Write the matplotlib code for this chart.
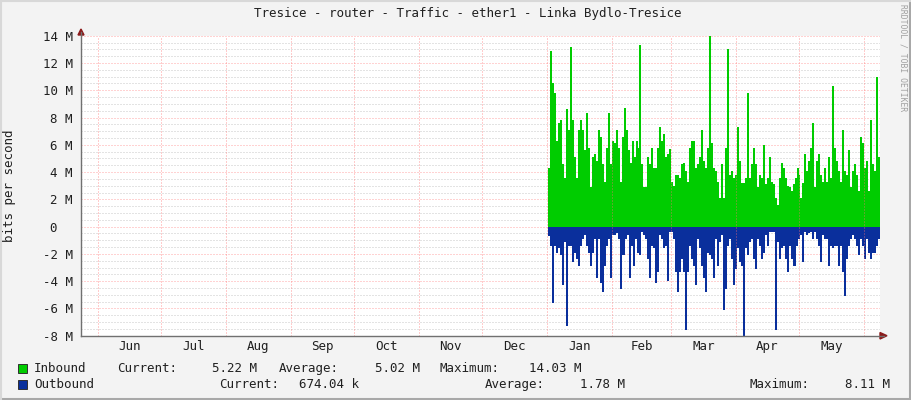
import numpy as np
import matplotlib
matplotlib.use("Agg")
import matplotlib.pyplot as plt
from matplotlib.patches import Rectangle, Polygon
from matplotlib.lines import Line2D

W, H = 911, 400

# traffic in Mbit/s (roughly one value per day, Jan 1 .. Jun 8)
inbound = [
    4.3, 12.9, 10.5, 9.8, 6.3, 7.6, 7.8, 4.6, 3.6, 8.6, 7.1, 13.2, 7.8, 5.1,
    3.6, 7.1, 7.8, 7.1, 5.6, 8.3, 5.8, 2.9, 5.1, 5.3, 4.8, 7.1, 6.6, 4.6,
    3.3, 5.8, 8.3, 4.6, 6.3, 6.1, 7.1, 5.8, 3.3, 6.6, 8.7, 7.1, 5.6, 4.7,
    6.3, 5.1, 6.3, 5.8, 13.3, 4.6, 2.9, 2.9, 5.1, 4.6, 5.8, 4.3, 4.3, 5.8,
    7.3, 6.3, 6.8, 5.1, 5.3, 5.7, 3.3, 3.0, 3.8, 3.8, 3.6, 4.6, 4.7, 4.1,
    3.3, 5.8, 6.3, 6.3, 4.3, 4.6, 5.1, 7.1, 4.8, 4.3, 5.8, 14.0, 6.1, 4.3, 4.1,
    3.3, 2.1, 4.6, 2.1, 5.8, 13.0, 3.8, 4.1, 3.6, 3.8, 7.3, 4.8, 3.2, 3.2,
    3.6, 9.8, 3.6, 4.6, 5.8, 4.6, 2.9, 3.8, 3.6, 6.0, 3.1, 3.6, 5.1, 3.3,
    3.1, 2.1, 1.6, 3.6, 4.7, 4.3, 3.6, 3.0, 2.9, 2.6, 3.1, 3.6, 4.3, 3.8,
    2.1, 3.2, 5.3, 4.1, 4.8, 5.8, 7.6, 2.9, 4.8, 5.3, 3.8, 3.3, 4.3, 3.3,
    5.1, 3.6, 10.3, 5.8, 4.8, 4.1, 3.3, 7.1, 4.1, 3.8, 5.6, 2.9, 4.1, 4.6,
    3.8, 2.6, 6.6, 6.1, 4.3, 4.8, 2.6, 7.8, 4.6, 4.1, 11.0, 5.1,
]
outbound = [
    0.7, 1.4, 5.6, 1.4, 1.9, 1.6, 2.1, 4.3, 1.1, 7.3, 1.4, 1.4, 2.6, 1.9,
    2.4, 2.9, 1.4, 0.9, 0.6, 1.4, 1.9, 2.9, 1.9, 0.9, 3.8, 0.9, 4.1, 4.8,
    2.9, 1.4, 0.9, 3.8, 0.6, 0.6, 0.5, 0.9, 4.6, 2.1, 0.9, 0.6, 3.8,
    1.4, 2.9, 0.9, 1.9, 2.1, 0.4, 0.6, 0.9, 2.4, 3.8, 1.4, 1.6, 4.1, 3.3,
    0.6, 0.9, 1.6, 1.4, 4.0, 0.4, 0.4, 0.9, 3.3, 4.8, 3.3, 2.4, 3.3, 7.6,
    3.3, 1.4, 2.4, 2.9, 4.3, 0.9, 1.6, 2.9, 3.8, 4.8, 1.9, 2.1, 2.4, 3.8,
    0.9, 2.9, 1.1, 0.6, 6.1, 4.6, 1.4, 0.9, 2.4, 4.3, 3.1, 1.6, 2.6, 2.9,
    8.1, 1.6, 2.1, 1.1, 0.9, 2.4, 3.1, 0.9, 1.4, 2.4, 1.9, 0.6, 1.4, 0.4,
    0.4, 0.4, 7.6, 1.1, 2.4, 1.6, 1.4, 2.4, 3.3, 1.4, 2.4, 2.9, 1.4, 0.9,
    0.6, 2.6, 0.4, 0.6, 0.5, 0.4, 0.9, 0.4, 0.9, 1.4, 2.6, 0.6, 0.9, 0.9,
    2.9, 1.4, 1.6, 1.4, 1.4, 2.9, 1.4, 3.3, 5.1, 2.4, 1.4, 0.9, 0.6, 0.9,
    1.4, 2.1, 0.9, 1.4, 2.4, 0.9, 1.9, 2.4, 1.9, 1.9, 1.4, 0.9,
]

# days counted from Jun 1
month_names = ["Jun", "Jul", "Aug", "Sep", "Oct", "Nov", "Dec",
               "Jan", "Feb", "Mar", "Apr", "May"]
month_starts = [0, 30, 61, 92, 122, 153, 183, 214, 245, 273, 304, 334, 365]
x_start, x_end = -8.1, 372.7
data_start, data_end = 214.5, 372.7

legend_rows = [
    ("Inbound", "#00cc00", [("Current:", 116.7), ("5.22 M", 212), ("Average:", 279),
                            ("5.02 M", 375), ("Maximum:", 440), ("14.03 M", 529)]),
    ("Outbound", "#0a2f9c", [("Current:", 219), ("674.04 k", 299), ("Average:", 485),
                             ("1.78 M", 580), ("Maximum:", 750), ("8.11 M", 845)]),
]

mono = "DejaVu Sans Mono"
fs = 9
txt = "#202020"


def px(x, y):
    return (x / W, 1 - y / H)


fig = plt.figure(figsize=(W / 100, H / 100), dpi=100, facecolor="#f3f3f3")
ax = fig.add_axes([81 / W, (H - 335.7) / H, 799 / W, 300 / H])
ax.set_facecolor("white")
ax.set_xlim(x_start, x_end)
ax.set_ylim(-8, 14)

# horizontal grid (below data)
for v in np.arange(-8, 14.01, 0.5):
    if v % 2 == 0:
        ax.axhline(v, color="#ff9090", lw=0.72, dashes=(1, 2), alpha=0.8, zorder=1)
    else:
        ax.axhline(v, color="#c8c8c8", lw=0.72, dashes=(1, 2), zorder=1)

edges_in = np.linspace(data_start, data_end, len(inbound) + 1)
edges_out = np.linspace(data_start, data_end, len(outbound) + 1)
ax.stairs(inbound, edges_in, baseline=0, fill=True, color="#00cc00", lw=0, zorder=2)
ax.stairs(-np.array(outbound), edges_out, baseline=0, fill=True, color="#0a2f9c", lw=0, zorder=2)

# vertical month lines (over data)
for d in month_starts:
    ax.axvline(d, color="#ff7070", lw=0.72, dashes=(1, 2), alpha=0.7, zorder=3)

for s in ax.spines.values():
    s.set_visible(False)

ax.set_yticks(np.arange(-8, 15, 2))
ax.set_yticklabels([("%d M" % v) if v != 0 else "0  " for v in range(-8, 15, 2)],
                   family=mono, fontsize=fs, color=txt)
ax.tick_params(axis="y", length=0, pad=6)
ax.set_xticks([])
ax.set_xticks([(month_starts[i] + month_starts[i + 1]) / 2 for i in range(12)], minor=True)
ax.set_xticklabels(month_names, minor=True, family=mono, fontsize=fs, color=txt)
ax.tick_params(axis="x", which="minor", length=0, pad=3)

# axes lines with arrows
fig.add_artist(Line2D([81 / W, 81 / W], [px(0, 336)[1], px(0, 32)[1]], color="#707070", lw=1))
fig.add_artist(Line2D([81 / W, 884 / W], [px(0, 335.7)[1]] * 2, color="#707070", lw=1))
fig.add_artist(Polygon([px(78, 35), px(84, 35), px(81, 29)], closed=True,
                       transform=fig.transFigure, color="#8b1a1a"))
fig.add_artist(Polygon([px(880, 332.5), px(880, 339), px(887, 335.7)], closed=True,
                       transform=fig.transFigure, color="#8b1a1a"))

fig.text(467.5 / W, px(0, 14)[1], "Tresice - router - Traffic - ether1 - Linka Bydlo-Tresice",
         ha="center", va="center", family=mono, fontsize=fs, color=txt)
fig.text(10 / W, px(0, 186)[1], "bits per second", rotation=90, ha="center", va="center",
         family=mono, fontsize=fs, color=txt)
fig.text(903 / W, px(0, 58)[1], "RRDTOOL / TOBI OETIKER", rotation=270, ha="center",
         va="center", family=mono, fontsize=5.8, color="#a0a0a0")

for i, (name, col, items) in enumerate(legend_rows):
    y = 368.3 + i * 16
    fig.add_artist(Rectangle(px(18, y + 4.5), 9 / W, 9 / H, transform=fig.transFigure,
                             facecolor=col, edgecolor="#303030", lw=0.7))
    fig.text(34 / W, px(0, y)[1], name, ha="left", va="center", family=mono,
             fontsize=fs, color=txt)
    for s, x in items:
        fig.text(x / W, px(0, y)[1], s, ha="left", va="center", family=mono,
                 fontsize=fs, color=txt)

# frame of the image
fig.add_artist(Line2D([0, 1], [px(0, 398.5)[1]] * 2, color="#a8a8a8", lw=2.2))
fig.add_artist(Line2D([px(909.5, 0)[0]] * 2, [0, 1], color="#a8a8a8", lw=2.2))
fig.add_artist(Line2D([0, 1], [px(0, 1)[1]] * 2, color="#d8d8d8", lw=1.5))
fig.add_artist(Line2D([px(1, 0)[0]] * 2, [0, 1], color="#d8d8d8", lw=1.5))

fig.savefig("out.png", dpi=100, facecolor=fig.get_facecolor())
